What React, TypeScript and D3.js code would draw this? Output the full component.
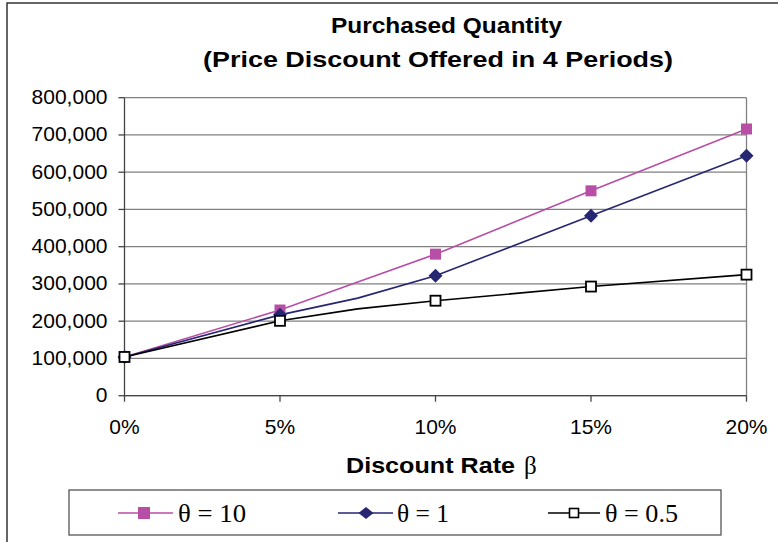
import React from "react";
import * as d3 from "d3";

const rates = [0, 0.05, 0.075, 0.1, 0.15, 0.2];
const markedRates = [0, 0.05, 0.1, 0.15, 0.2];
const pinkValues = [104000, 230000, 305000, 380000, 550000, 716000];
const blueValues = [104000, 217000, 262000, 322000, 483000, 644000];
const blackValues = [104000, 201000, 233000, 255000, 293000, 325000];
const yTicks = [0, 100000, 200000, 300000, 400000, 500000, 600000, 700000, 800000];
const xTicks = [0, 0.05, 0.1, 0.15, 0.2];
const seriesLabels = ["θ = 10", "θ = 1", "θ = 0.5"];

const W = 778;
const H = 542;
const PINK = "#b84ea5";
const NAVY = "#262673";

export default function App() {
  const x = d3.scaleLinear().domain([0, 0.2]).range([124.5, 746.5]);
  const y = d3.scaleLinear().domain([0, 800000]).range([395.7, 97.7]);
  const line = d3
    .line<[number, number]>()
    .x((d) => x(d[0]))
    .y((d) => y(d[1]));
  const pts = (vals: number[]) => rates.map((r, i) => [r, vals[i]] as [number, number]);
  const marked = (vals: number[]) =>
    rates.map((r, i) => [r, vals[i]] as [number, number]).filter((d) => markedRates.includes(d[0]));
  const fmt = d3.format(",");
  const pct = d3.format(".0%");
  const sans = "'Liberation Sans', Arial, sans-serif";
  const serif = "'Liberation Serif', 'Times New Roman', serif";

  const square = (cx: number, cy: number, s: number, fill: string, stroke: string, sw: number, key: string) => (
    <rect key={key} x={cx - s / 2} y={cy - s / 2} width={s} height={s} fill={fill} stroke={stroke} strokeWidth={sw} />
  );
  const diamond = (cx: number, cy: number, rx: number, ry: number, fill: string, key: string) => (
    <path key={key} d={`M${cx},${cy - ry}L${cx + rx},${cy}L${cx},${cy + ry}L${cx - rx},${cy}Z`} fill={fill} />
  );

  const legendY = 513;
  const legendItems = [
    { x1: 118, x2: 173, mx: 144, tx: 178, tw: 68 },
    { x1: 338, x2: 393, mx: 366, tx: 397, tw: 52 },
    { x1: 548, x2: 600, mx: 574, tx: 605, tw: 73 },
  ];

  return (
    <svg width={W} height={H} style={{ position: "absolute", left: 0, top: 0, background: "#fff" }}>
      <rect x={7} y={3} width={W + 10} height={H + 10} fill="#fff" stroke="#333" strokeWidth={1.5} />
      <text x={331} y={33} textLength={231} lengthAdjust="spacingAndGlyphs" fontFamily={sans} fontWeight="bold" fontSize={21.5} fill="#000">
        Purchased Quantity
      </text>
      <text x={203} y={67} textLength={470} lengthAdjust="spacingAndGlyphs" fontFamily={sans} fontWeight="bold" fontSize={21.5} fill="#000">
        (Price Discount Offered in 4 Periods)
      </text>

      {/* gridlines */}
      {yTicks.map((t) => (
        <line key={"g" + t} x1={x(0)} x2={x(0.2)} y1={y(t)} y2={y(t)} stroke="#808080" strokeWidth={1.3} />
      ))}
      <line x1={x(0.2)} x2={x(0.2)} y1={y(800000)} y2={y(0)} stroke="#808080" strokeWidth={1.3} />
      {/* axes */}
      <line x1={x(0)} x2={x(0)} y1={y(800000)} y2={y(0)} stroke="#444" strokeWidth={1.3} />
      <line x1={x(0)} x2={x(0.2)} y1={y(0)} y2={y(0)} stroke="#444" strokeWidth={1.3} />
      {yTicks.map((t) => (
        <g key={"yt" + t}>
          <line x1={x(0) - 6} x2={x(0)} y1={y(t)} y2={y(t)} stroke="#444" strokeWidth={1.3} />
          <text x={107.5} y={y(t) + 6.5} textAnchor="end" fontFamily={sans} fontSize={21} fill="#000">
            {fmt(t)}
          </text>
        </g>
      ))}
      {xTicks.map((t) => (
        <g key={"xt" + t}>
          <line x1={x(t)} x2={x(t)} y1={y(0)} y2={y(0) + 6} stroke="#444" strokeWidth={1.3} />
          <text x={x(t)} y={434} textAnchor="middle" fontFamily={sans} fontSize={21} fill="#000">
            {pct(t)}
          </text>
        </g>
      ))}
      <text x={346} y={473} textLength={169} lengthAdjust="spacingAndGlyphs" fontFamily={sans} fontWeight="bold" fontSize={21.5} fill="#000">
        Discount Rate
      </text>
      <text x={524} y={474} fontFamily={serif} fontSize={25} fill="#000">
        β
      </text>

      {/* series */}
      <path d={line(pts(pinkValues)) || ""} fill="none" stroke={PINK} strokeWidth={1.6} />
      <path d={line(pts(blueValues)) || ""} fill="none" stroke={NAVY} strokeWidth={1.6} />
      <path d={line(pts(blackValues)) || ""} fill="none" stroke="#000" strokeWidth={1.6} />
      {marked(pinkValues).map((d, i) => square(x(d[0]), y(d[1]), 11, PINK, "none", 0, "p" + i))}
      {marked(blueValues).map((d, i) => diamond(x(d[0]), y(d[1]), 7, 7, NAVY, "b" + i))}
      {marked(blackValues).map((d, i) => square(x(d[0]), y(d[1]), 10, "#fff", "#000", 1.8, "k" + i))}

      {/* legend */}
      <rect x={69} y={490} width={652} height={45} fill="#fff" stroke="#555" strokeWidth={1.3} />
      {legendItems.map((it, i) => (
        <g key={"l" + i}>
          <line
            x1={it.x1}
            x2={it.x2}
            y1={legendY}
            y2={legendY}
            stroke={i === 0 ? PINK : i === 1 ? NAVY : "#000"}
            strokeWidth={1.6}
          />
          {i === 0 && square(it.mx, legendY, 12, PINK, "none", 0, "lm0")}
          {i === 1 && diamond(it.mx, legendY, 7.5, 6, NAVY, "lm1")}
          {i === 2 && square(it.mx, legendY, 9, "#fff", "#000", 1.6, "lm2")}
          <text x={it.tx} y={legendY + 9} textLength={it.tw} lengthAdjust="spacingAndGlyphs" fontFamily={serif} fontSize={25} fill="#000">
            {seriesLabels[i]}
          </text>
        </g>
      ))}
    </svg>
  );
}
